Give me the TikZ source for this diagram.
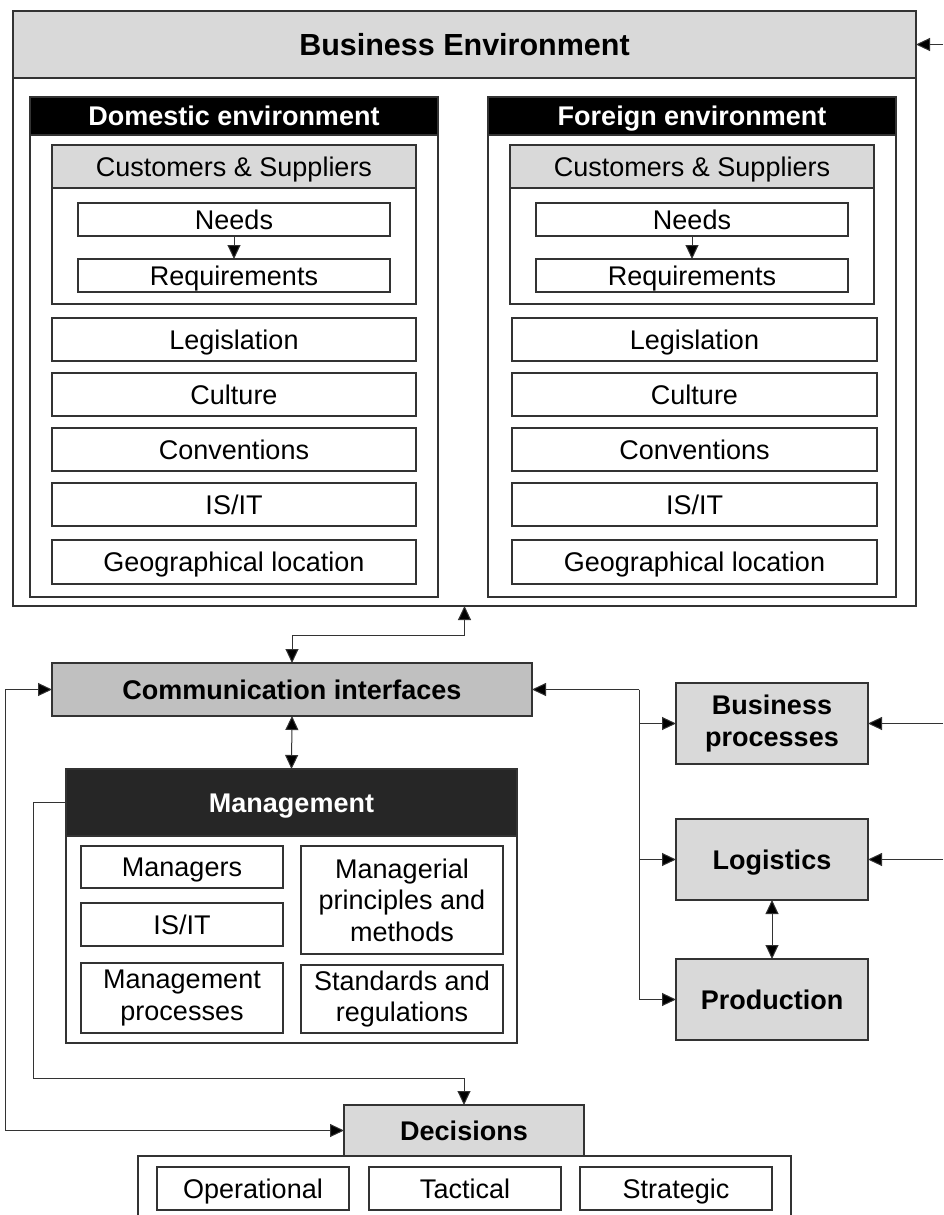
\documentclass[tikz,border=0pt]{standalone}
\usepackage{fontspec}
\setmainfont{Liberation Sans}
\usetikzlibrary{arrows.meta}
\definecolor{lgray}{HTML}{D9D9D9}
\definecolor{mgray}{HTML}{C0C0C0}
\definecolor{dgray}{HTML}{262626}
\tikzset{
 bx/.style={draw=black!80, line width=1.1pt, inner sep=0pt, outer sep=0pt, align=center, font=\fontsize{27}{31.5}\selectfont},
 oneline/.style={text height=22pt, text depth=3pt},
 lgbox/.style={bx, fill=lgray},
 cmbox/.style={bx, fill=mgray},
 hdbox/.style={bx, fill=black, text=white, font=\fontsize{27}{32}\selectfont\bfseries},
 boldf/.style={font=\fontsize{27}{32}\selectfont\bfseries},
 conn/.style={draw=black!80, line width=1pt},
 arr/.style={conn, -{Triangle[length=14pt,width=13pt,fill=black]}},
 arrb/.style={conn, {Triangle[length=14pt,width=13pt,fill=black]}-{Triangle[length=14pt,width=13pt,fill=black]}},
}
\newcommand\bx[7]{\node[#6, minimum width={#4-#2}, minimum height={#5-#3}] (#1) at ({(#2+#4)/2},{(#3+#5)/2}) {#7};}
\begin{document}
\begin{tikzpicture}[x=1pt,y=-1pt]
\useasboundingbox (0,0) rectangle (943,1215);
% Business environment
\bx{be}{13}{11}{916}{606}{bx}{}
\bx{beh}{13}{11}{916}{78}{lgbox,oneline,font=\fontsize{30.5}{36}\selectfont\bfseries,text height=25pt}{Business Environment}
% Domestic
\bx{dom}{30}{97}{438}{597}{bx}{}
\bx{domh}{30}{97}{438}{135}{hdbox,oneline}{Domestic environment}
\bx{dcs}{52}{145}{416}{304}{bx}{}
\bx{dcsh}{52}{145}{416}{188}{lgbox,oneline}{Customers \& Suppliers}
\bx{dneeds}{78}{203}{390}{236}{bx,oneline}{Needs}
\bx{dreq}{78}{259}{390}{292}{bx,oneline}{Requirements}
\bx{dleg}{52}{318}{416}{361}{bx,oneline}{Legislation}
\bx{dcul}{52}{373}{416}{416}{bx,oneline}{Culture}
\bx{dcon}{52}{428}{416}{471}{bx,oneline}{Conventions}
\bx{dis}{52}{483}{416}{526}{bx,oneline}{IS/IT}
\bx{dgeo}{52}{540}{416}{584}{bx,oneline}{Geographical location}
% Foreign
\bx{for}{488}{97}{896}{597}{bx}{}
\bx{forh}{488}{97}{896}{135}{hdbox,oneline}{Foreign environment}
\bx{fcs}{510}{145}{874}{304}{bx}{}
\bx{fcsh}{510}{145}{874}{188}{lgbox,oneline}{Customers \& Suppliers}
\bx{fneeds}{536}{203}{848}{236}{bx,oneline}{Needs}
\bx{freq}{536}{259}{848}{292}{bx,oneline}{Requirements}
\bx{fleg}{512}{318}{877}{361}{bx,oneline}{Legislation}
\bx{fcul}{512}{373}{877}{416}{bx,oneline}{Culture}
\bx{fcon}{512}{428}{877}{471}{bx,oneline}{Conventions}
\bx{fis}{512}{483}{877}{526}{bx,oneline}{IS/IT}
\bx{fgeo}{512}{540}{877}{584}{bx,oneline}{Geographical location}
% Communication interfaces
\bx{comm}{52}{663}{532}{716}{cmbox,boldf,oneline}{Communication interfaces}
% Management
\bx{mg}{66}{769}{517}{1043}{bx}{}
\bx{mgh}{66}{769}{517}{836}{hdbox,oneline,fill=dgray}{Management}
\bx{mman}{81}{846}{283}{888}{bx,oneline}{Managers}
\bx{mis}{81}{903}{283}{946}{bx,oneline}{IS/IT}
\bx{mpro}{81}{963}{283}{1033}{bx}{Management\\processes}
\bx{mprin}{301}{846}{503}{954}{bx}{Managerial\\principles and\\methods}
\bx{mstd}{301}{965}{503}{1033}{bx}{Standards and\\regulations}
% Right boxes
\bx{bp}{676}{683}{868}{764}{lgbox,boldf}{Business\\processes}
\bx{log}{676}{819}{868}{900}{lgbox,boldf,oneline}{Logistics}
\bx{prod}{676}{959}{868}{1040}{lgbox,boldf,oneline}{Production}
% Decisions
\bx{dbot}{138}{1156}{791}{1232}{bx}{}
\bx{dec}{344}{1105}{584}{1156}{lgbox,boldf,oneline}{Decisions}
\bx{dop}{157}{1167}{349}{1210}{bx,oneline}{Operational}
\bx{dtac}{369}{1167}{561}{1210}{bx,oneline}{Tactical}
\bx{dstr}{580}{1167}{772}{1210}{bx,oneline}{Strategic}
% Connectors
\coordinate (beR) at (943,44.5);
\draw[arr] (beR) -- (beR -| be.east);
\draw[arr] (dneeds) -- (dreq);
\draw[arr] (fneeds) -- (freq);
\draw[arrb] (comm.north) -- ++(0,-28) -| (be.south);
\draw[arrb] (comm.south) -- (mg.north);
\coordinate (bus) at (639,689.5);
\draw[arr] (bus) -- (comm.east);
\draw[arr] (bus) |- (prod.west);
\draw[arr] (bus |- bp.west) -- (bp.west);
\draw[arr] (bus |- log.west) -- (log.west);
\coordinate (bpR) at (943,723.5);
\coordinate (logR) at (943,859.5);
\draw[arr] (bpR) -- (bp.east);
\draw[arr] (logR) -- (log.east);
\draw[arrb] (log.south) -- (prod.north);
\coordinate (ol) at (5,0);
\draw[arrb] (comm.west) -| (ol |- dec.west) -- (dec.west);
\coordinate (il) at (33,1078);
\draw[arr] (mgh.west) -| (il) -| (dec.north);
\end{tikzpicture}
\end{document}
